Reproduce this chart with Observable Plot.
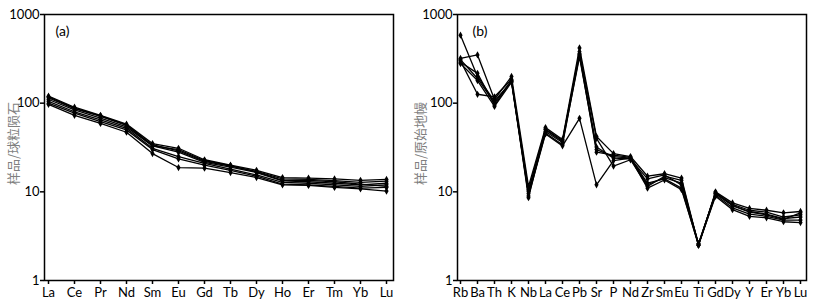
<!DOCTYPE html>
<html>
<head>
<meta charset="utf-8">
<script src="https://cdn.jsdelivr.net/npm/d3@7"></script>
<script src="https://cdn.jsdelivr.net/npm/@observablehq/plot@0.6"></script>
<style>
  html, body { margin: 0; padding: 0; background: #fff; }
  #wrap { display: flex; width: 820px; height: 308px; }
  #wrap svg { display: block; }
</style>
</head>
<body>
<div id="wrap"></div>
<script>
// ---- Panel (a): chondrite-normalized REE ----
const reeElements = ["La","Ce","Pr","Nd","Sm","Eu","Gd","Tb","Dy","Ho","Er","Tm","Yb","Lu"];
const reeA1 = [120, 90, 73, 58, 35, 31, 23, 20, 17.5, 14.5, 14.3, 14, 13.5, 13.8];
const reeA2 = [115, 87, 71, 56, 34, 29, 22, 19.5, 17, 14, 13.8, 13.4, 12.8, 13.2];
const reeA3 = [110, 84, 68, 54, 33, 28, 21.5, 19, 16.5, 13.3, 13, 12.5, 12, 12.5];
const reeA4 = [105, 80, 65, 52, 31, 25, 21, 18, 15.5, 12.8, 12.5, 12, 11.5, 12];
const reeA5 = [100, 77, 62, 50, 30, 23.5, 20, 17.5, 15, 12.2, 12, 11.5, 11, 11.2];
const reeA6 = [97, 73, 59, 47, 27, 18.8, 18.5, 16.5, 14.5, 12, 11.8, 11.2, 10.8, 10.2];
const reeA7 = [118, 88, 72, 57, 33, 30, 22.5, 19.8, 16.8, 13.5, 13.5, 13, 12.2, 11.5];
const reeSeries = [reeA1, reeA2, reeA3, reeA4, reeA5, reeA6, reeA7];

// ---- Panel (b): primitive-mantle-normalized trace elements ----
const traceElements = ["Rb","Ba","Th","K","Nb","La","Ce","Pb","Sr","P","Nd","Zr","Sm","Eu","Ti","Gd","Dy","Y","Er","Yb","Lu"];
const trB1 = [585, 200, 105, 175, 10, 48, 36, 330, 30, 25, 24, 12, 14.5, 12.5, 2.6, 9.5, 7, 6, 5.6, 5, 5.2];
const trB2 = [320, 350, 110, 200, 11.5, 53, 39, 420, 42, 27, 25, 15, 16, 14.3, 2.5, 10, 7.5, 6.5, 6.2, 5.8, 6];
const trB3 = [300, 126, 118, 185, 9, 45, 33, 67.5, 12, 22.5, 24, 11, 13.6, 10.6, 2.55, 8.9, 6.3, 5.3, 5.1, 4.6, 4.5];
const trB4 = [290, 217, 95, 178, 8.6, 50, 37, 380, 40, 19.5, 23, 11.5, 15, 13.5, 2.5, 9.8, 7.2, 6.2, 5.9, 5.2, 5.5];
const trB5 = [280, 180, 92, 172, 9.5, 46, 34, 350, 28, 26, 24.5, 12.5, 14, 11, 2.5, 9.2, 6.6, 5.6, 5.3, 4.8, 4.8];
const trB6 = [310, 190, 100, 180, 10.5, 51, 38, 360, 32, 24, 23.5, 14, 15.5, 12, 2.6, 9.6, 7, 5.9, 5.5, 4.9, 5.8];
const traceSeries = [trB1, trB2, trB3, trB4, trB5, trB6];

const yTicks = [1, 10, 100, 1000];
const labelA = "(a)", labelB = "(b)";
const yTitleA = "样品/球粒陨石", yTitleB = "样品/原始地幔";

function toRows(elements, series) {
  const rows = [];
  series.forEach((vals, s) => vals.forEach((v, i) => rows.push({el: elements[i], v, s})));
  return rows;
}

function panel({elements, series, ml, mr, xr, title, yTitle, labelOffset, tagDx}) {
  const rows = toRows(elements, series);
  return Plot.plot({
    width: 410, height: 308,
    marginLeft: ml, marginRight: mr, marginTop: 14, marginBottom: 28,
    style: {fontFamily: "Lato, sans-serif", fontSize: "13px", color: "#000", background: "#fff", overflow: "visible"},
    x: {type: "point", domain: elements, range: xr, padding: 0},
    y: {type: "log", domain: [1, 1000]},
    marks: [
      Plot.frame({stroke: "#000", strokeWidth: 1.5}),
      Plot.axisX({ticks: elements, tickSize: 4, tickPadding: 3, label: null, stroke: "#000", strokeWidth: 1.5, fontSize: 13}),
      Plot.axisY({ticks: yTicks, tickFormat: d => String(d), tickSize: 4, tickPadding: 1, stroke: "#000", strokeWidth: 1.5, fontSize: 13,
        label: null}),
      Plot.text([yTitle], {frameAnchor: "left", dx: -labelOffset, dy: -4, rotate: -90, fill: "#7f7f7f", fontSize: 13,
        fontFamily: "'Noto Sans CJK SC', sans-serif", textAnchor: "middle", lineAnchor: "top"}),
      Plot.text([title], {frameAnchor: "top-left", dx: tagDx, dy: 12, textAnchor: "start", lineAnchor: "top", fontSize: 14}),
      Plot.line(rows, {x: "el", y: "v", z: "s", stroke: "#000", strokeWidth: 1.3}),
      Plot.dot(rows, {x: "el", y: "v", symbol: "diamond", r: 2.2, fill: "#000"})
    ]
  });
}

const wrap = document.getElementById("wrap");
wrap.appendChild(panel({elements: reeElements, series: reeSeries, ml: 44, mr: 17, xr: [44.5, 390],
  title: labelA, yTitle: yTitleA, labelOffset: 36, tagDx: 11}));
wrap.appendChild(panel({elements: traceElements, series: traceSeries, ml: 47, mr: 14, xr: [47.5, 392.5],
  title: labelB, yTitle: yTitleB, labelOffset: 42, tagDx: 15}));
</script>
</body>
</html>
